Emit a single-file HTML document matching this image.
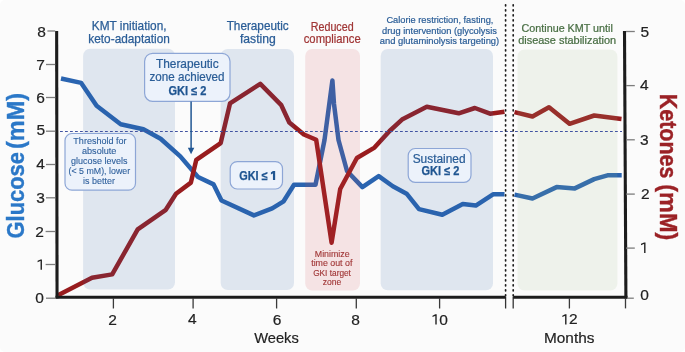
<!DOCTYPE html>
<html><head><meta charset="utf-8">
<style>
html,body{margin:0;padding:0;background:#ffffff;}
body{width:685px;height:352px;overflow:hidden;font-family:"Liberation Sans",sans-serif;}
svg{display:block;will-change:transform;}
text{font-family:"Liberation Sans",sans-serif;}
</style></head>
<body>
<svg width="685" height="352" viewBox="0 0 685 352">
<rect x="0" y="0" width="685" height="352" rx="5" fill="#fbfbfb"/>

<!-- glucose (blue) -->
<g fill="none" stroke="#2a64b0" stroke-width="4.5" stroke-linejoin="round">
<polyline points="61,78.5 81.2,82.9 96.6,105.8 120.7,124.2 143.4,129.2 160.6,138.8 180.3,156.4 198,177 213.6,184.4 221.5,200.5 253.9,215.4 272.2,208.4 283.6,201.3 294,184.7 315.5,184.7 324.5,140 332.4,80.5 334,104 338.5,140 347,171 362.4,187.1 378.7,176.1 392.8,186.3 406.6,193.7 419,209.1 442.3,214.8 462.8,203.9 475.8,205.6 493.4,194.2 504.5,194.2"/>
<polyline points="514.5,194.6 532.5,198.5 556.6,187.1 574.8,188.4 594.2,179.1 607.5,175.3 621.7,175.3"/>
</g>

<!-- ketones (red) -->
<g fill="none" stroke="#981c1e" stroke-width="4.5" stroke-linejoin="round">
<polyline points="58,295.2 92,277.8 112.2,274.4 137.7,229.4 165.8,209.8 176,193.8 190.9,182.6 196.3,159.8 220.7,143.1 230,103.4 260.3,83.8 281.3,105.2 289.3,122.5 303.9,134.5 316.2,139.8 331.6,242.7 340.2,189 356.9,158 374.5,147.6 389.6,131 402,119.6 426.8,106.8 458.7,113.3 474.9,108 490,113.7 504.5,111.8" stroke-linecap="butt"/>
<polyline points="514.5,112.1 532.5,116.5 549,107.3 569.5,123.8 594.2,115.5 621.5,118.9"/>
</g>

<!-- shaded regions (semi-transparent overlays on top of data lines) -->
<g>
<rect x="83.1" y="48.8" width="91.9" height="240.7" rx="7" fill="rgb(44,96,162)" fill-opacity="0.135"/>
<rect x="220.7" y="49" width="73.3" height="241" rx="7" fill="rgb(44,96,162)" fill-opacity="0.135"/>
<rect x="305.2" y="49" width="54.8" height="241.6" rx="7" fill="rgb(205,66,74)" fill-opacity="0.13"/>
<rect x="380.7" y="49" width="112.3" height="241.3" rx="7" fill="rgb(44,96,162)" fill-opacity="0.135"/>
<rect x="517.5" y="49.4" width="99.9" height="241.1" rx="7" fill="rgb(151,189,135)" fill-opacity="0.13"/>
</g>

<!-- threshold dashed line -->
<line x1="60" y1="131.5" x2="622" y2="131.5" stroke="#4254a2" stroke-width="1.15" stroke-dasharray="2.8 2.2"/>

<!-- break lines -->
<g stroke="#1c1c1c" stroke-width="1.7" stroke-linecap="round" stroke-dasharray="1 4">
<line x1="505.6" y1="4.8" x2="505.6" y2="296"/>
<line x1="513.2" y1="4.8" x2="513.2" y2="296"/>
</g>
<line x1="505.6" y1="297" x2="505.6" y2="308.5" stroke="#333" stroke-width="1.3"/>
<line x1="513.2" y1="297" x2="513.2" y2="308.5" stroke="#333" stroke-width="1.3"/>

<!-- axes -->
<line x1="56.65" y1="31" x2="57.05" y2="298.6" stroke="#1c1c1c" stroke-width="3.1"/>
<line x1="55.5" y1="297.2" x2="505.6" y2="297.2" stroke="#1c1c1c" stroke-width="3"/>
<line x1="513.2" y1="297.2" x2="627.5" y2="297.2" stroke="#1c1c1c" stroke-width="3"/>
<line x1="624.5" y1="31" x2="625.9" y2="298.6" stroke="#1c1c1c" stroke-width="3.1"/>

<!-- y ticks -->
<g stroke="#7d7d7d" stroke-width="1.3">
<line x1="47.4" y1="31" x2="55.2" y2="31"/>
<line x1="46" y1="64.5" x2="55.2" y2="64.5"/>
<line x1="46" y1="97.5" x2="55.2" y2="97.5"/>
<line x1="46" y1="131.2" x2="55.2" y2="131.2"/>
<line x1="46" y1="164.5" x2="55.2" y2="164.5"/>
<line x1="46" y1="197.8" x2="55.2" y2="197.8"/>
<line x1="45.6" y1="231.5" x2="55.2" y2="231.5"/>
<line x1="45.6" y1="264.5" x2="55.2" y2="264.5"/>
<line x1="46" y1="298.2" x2="55.5" y2="298.2"/>
<line x1="626" y1="31.5" x2="634.8" y2="31.5"/>
<line x1="626" y1="85.6" x2="634.8" y2="85.6"/>
<line x1="626" y1="139.8" x2="634.8" y2="139.8"/>
<line x1="626" y1="194.1" x2="634.8" y2="194.1"/>
<line x1="626" y1="248.1" x2="634.8" y2="248.1"/>
<line x1="627.2" y1="298.2" x2="633.8" y2="298.2"/>
</g>
<!-- x ticks -->
<g stroke="#3a3a3a" stroke-width="1.3">
<line x1="113.4" y1="298" x2="113.4" y2="308.5"/>
<line x1="193.1" y1="298" x2="193.1" y2="308.5"/>
<line x1="276.6" y1="298" x2="276.6" y2="308.5"/>
<line x1="356.3" y1="298" x2="356.3" y2="308.5"/>
<line x1="439.6" y1="298" x2="439.6" y2="308.5"/>
<line x1="569.4" y1="298" x2="569.4" y2="308.5"/>
<line x1="625.5" y1="298" x2="625.5" y2="308.4"/>
</g>

<!-- tick labels -->
<g font-size="15.5" fill="#222" stroke="#222" stroke-width="0.2" text-anchor="middle">
<text x="41.65" y="37.3">8</text>
<text x="40.55" y="69.7">7</text>
<text x="40.6" y="102.7">6</text>
<text x="40.8" y="135.2">5</text>
<text x="40.65" y="168.8">4</text>
<text x="40.45" y="202.9">3</text>
<text x="39.5" y="236.9">2</text>
<text x="39.6" y="302.5">0</text>
<text x="644.7" y="36.7">5</text>
<text x="644.2" y="90">4</text>
<text x="644.4" y="144.7">3</text>
<text x="645.4" y="198.8">2</text>
<text x="644.5" y="299.6">0</text>
<text x="112.6" y="324.6">2</text>
<text x="192.3" y="323.9">4</text>
<text x="277.1" y="325.4">6</text>
<text x="355.6" y="324.7">8</text>
<text x="443.5" y="324.6">0</text>
<text x="573.35" y="324.4">2</text>
<text x="276.5" y="342.6" textLength="44.6" lengthAdjust="spacingAndGlyphs">Weeks</text>
<text x="569.2" y="343" textLength="50.4" lengthAdjust="spacingAndGlyphs">Months</text>
</g>

<!-- Roboto-like "1" glyphs -->
<g fill="#222">
<path d="M40.55,259.40 L41.95,259.40 L41.95,269.70 L40.55,269.70 Z M40.55,259.40 L40.85,260.85 L37.60,262.15 L37.60,260.75 Z"/>
<path d="M644.10,242.40 L645.50,242.40 L645.50,252.90 L644.10,252.90 Z M644.10,242.40 L644.40,243.85 L641.00,245.15 L641.00,243.75 Z"/>
<path d="M435.30,314.30 L436.70,314.30 L436.70,324.60 L435.30,324.60 Z M435.30,314.30 L435.60,315.75 L432.50,317.05 L432.50,315.65 Z"/>
<path d="M565.10,314.30 L566.50,314.30 L566.50,324.40 L565.10,324.40 Z M565.10,314.30 L565.40,315.75 L562.30,317.05 L562.30,315.65 Z"/>
</g>

<!-- axis titles -->
<g font-size="24.5" font-weight="bold" fill="#2b78c8" stroke="#2b78c8" stroke-width="0.4" text-anchor="middle">
<text transform="translate(23.6,195.25) rotate(-90)" textLength="86.4" lengthAdjust="spacingAndGlyphs">Glucose</text>
<text transform="translate(23.6,120.95) rotate(-90)" textLength="56" lengthAdjust="spacingAndGlyphs">(mM)</text>
</g>
<g font-size="24.5" font-weight="bold" fill="#9b2226" stroke="#9b2226" stroke-width="0.4" text-anchor="middle">
<text transform="translate(659.8,136.1) rotate(90)" textLength="84.8" lengthAdjust="spacingAndGlyphs">Ketones</text>
<text transform="translate(659.8,212.25) rotate(90)" textLength="56" lengthAdjust="spacingAndGlyphs">(mM)</text>
</g>

<!-- top labels -->
<g font-size="12.1" fill="#2a5d97" stroke="#2a5d97" stroke-width="0.25" text-anchor="middle">
<text x="129.2" y="29.5" textLength="74.7" lengthAdjust="spacingAndGlyphs">KMT initiation,</text>
<text x="129.1" y="43" textLength="81.5" lengthAdjust="spacingAndGlyphs">keto-adaptation</text>
<text x="257.7" y="30.4" textLength="62" lengthAdjust="spacingAndGlyphs">Therapeutic</text>
<text x="257.85" y="43.1" textLength="35.9" lengthAdjust="spacingAndGlyphs">fasting</text>
</g>
<g font-size="11.9" fill="#a03535" stroke="#a03535" stroke-width="0.22" text-anchor="middle">
<text x="332.2" y="30.5" textLength="42.9" lengthAdjust="spacingAndGlyphs">Reduced</text>
<text x="332.2" y="42.7" textLength="56.9" lengthAdjust="spacingAndGlyphs">compliance</text>
</g>
<g font-size="9.3" fill="#2a5d97" stroke="#2a5d97" stroke-width="0.2" text-anchor="middle">
<text x="439.9" y="23.4" textLength="107" lengthAdjust="spacingAndGlyphs">Calorie restriction, fasting,</text>
<text x="439.5" y="33.5" textLength="114.8" lengthAdjust="spacingAndGlyphs">drug intervention (glycolysis</text>
<text x="439.5" y="43.5" textLength="119.4" lengthAdjust="spacingAndGlyphs">and glutaminolysis targeting)</text>
</g>
<g font-size="10.6" fill="#486e43" stroke="#486e43" stroke-width="0.22" text-anchor="middle">
<text x="567.2" y="31.8" textLength="91.2" lengthAdjust="spacingAndGlyphs">Continue KMT until</text>
<text x="567.2" y="43.6" textLength="98" lengthAdjust="spacingAndGlyphs">disease stabilization</text>
</g>

<!-- red dip label -->
<g font-size="8.7" fill="#a03535" stroke="#a03535" stroke-width="0.12" text-anchor="middle">
<text x="332.2" y="256.5" textLength="34.8" lengthAdjust="spacingAndGlyphs">Minimize</text>
<text x="331.8" y="266" textLength="41.2" lengthAdjust="spacingAndGlyphs">time out of</text>
<text x="332.05" y="275.5" textLength="37.8" lengthAdjust="spacingAndGlyphs">GKI target</text>
<text x="332.1" y="284.8" textLength="18.6" lengthAdjust="spacingAndGlyphs">zone</text>
</g>

<!-- boxes -->
<g fill="#ecf2fb" stroke="#8da6d6" stroke-width="1.2">
<rect x="65" y="133.5" width="70.5" height="56.7" rx="7"/>
<rect x="144.6" y="53.3" width="85.4" height="48" rx="8"/>
<rect x="230.2" y="161.6" width="52.3" height="27.4" rx="7"/>
<rect x="408.2" y="148.5" width="62.8" height="33.8" rx="7"/>
</g>

<!-- arrow -->
<line x1="191.1" y1="101.5" x2="191.1" y2="148.5" stroke="#205693" stroke-width="1.5"/>
<polygon points="187.8,147.7 194.3,147.7 191.05,154.2" fill="#205693"/>

<!-- box texts -->
<g font-size="8.6" fill="#2d5f9c" stroke="#2d5f9c" stroke-width="0.1" text-anchor="middle">
<text x="99.95" y="144" textLength="53.2" lengthAdjust="spacingAndGlyphs">Threshold for</text>
<text x="99.2" y="153.9" textLength="34.4" lengthAdjust="spacingAndGlyphs">absolute</text>
<text x="99.3" y="163.8" textLength="56.6" lengthAdjust="spacingAndGlyphs">glucose levels</text>
<text x="99.35" y="173.8" textLength="61.6" lengthAdjust="spacingAndGlyphs">(&lt; 5 mM), lower</text>
<text x="98.95" y="183.8" textLength="31.9" lengthAdjust="spacingAndGlyphs">is better</text>
</g>
<g font-size="11.9" fill="#2a5d97" stroke="#2a5d97" stroke-width="0.22" text-anchor="middle">
<text x="187.3" y="67.7">Therapeutic</text>
<text x="187" y="81" textLength="75" lengthAdjust="spacingAndGlyphs">zone achieved</text>
<text x="439.1" y="162.7">Sustained</text>
</g>
<g font-size="12.2" font-weight="bold" fill="#1f5591" stroke="#1f5591" stroke-width="0.25" text-anchor="middle">
<text x="187.5" y="94.9" textLength="38" lengthAdjust="spacingAndGlyphs">GKI ≤ 2</text>
<text x="253.45" y="180.1" textLength="28.4" lengthAdjust="spacingAndGlyphs">GKI ≤</text>
<text x="440.5" y="175.2" textLength="38" lengthAdjust="spacingAndGlyphs">GKI ≤ 2</text>
</g>
<path fill="#1f5591" d="M272.95,171.1 L275.15,171.1 L275.15,180.1 L272.95,180.1 Z M272.95,171.1 L273.3,173.2 L270.9,174.4 L270.9,172.4 Z"/>
</svg>
</body></html>
